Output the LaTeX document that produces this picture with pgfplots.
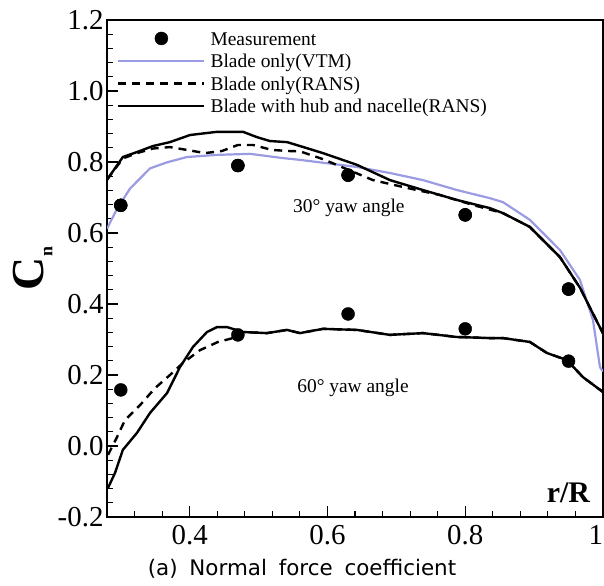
\documentclass[border=0pt]{standalone}
\usepackage{fontspec}
\setmainfont{Liberation Serif}
\newfontfamily\capfont{DejaVu Sans}
\usepackage{pgfplots}
\pgfplotsset{compat=1.18}
\usepackage{pgfplotstable}
\definecolor{vtm}{RGB}{155,155,228}

\pgfplotstableread{
x y
0.2800 0.612
0.2945 0.668
0.3134 0.725
0.3424 0.782
0.3671 0.799
0.3961 0.814
0.4397 0.820
0.4876 0.823
0.5354 0.811
0.5601 0.806
0.6428 0.786
0.6907 0.769
0.7386 0.749
0.7880 0.721
0.8359 0.698
0.8547 0.687
0.8939 0.637
0.9375 0.552
0.9665 0.468
0.9854 0.355
0.9956 0.222
1.0000 0.210
}\vtmthirty

\pgfplotstableread{
x y
0.2800 0.750
0.3030 0.810
0.3235 0.825
0.3468 0.838
0.3714 0.842
0.3961 0.834
0.4222 0.825
0.4469 0.831
0.4701 0.848
0.4919 0.848
0.5195 0.834
0.5427 0.831
0.5601 0.830
0.5935 0.808
0.6660 0.749
0.7154 0.727
0.7633 0.707
0.8112 0.679
0.8547 0.656
0.8939 0.617
0.9375 0.532
0.9665 0.446
0.9854 0.373
1.0000 0.317
}\ransthirty

\pgfplotstableread{
x y
0.2800 0.750
0.3030 0.814
0.3235 0.828
0.3468 0.845
0.3714 0.856
0.4005 0.876
0.4397 0.885
0.4774 0.885
0.4977 0.870
0.5166 0.859
0.5413 0.856
0.5601 0.845
0.5935 0.825
0.6428 0.792
0.6907 0.749
0.7386 0.721
0.7880 0.693
0.8359 0.670
0.8547 0.656
0.8939 0.617
0.9375 0.532
0.9665 0.446
0.9854 0.373
1.0000 0.317
}\hubthirty

\pgfplotstableread{
x y
0.2815 -0.025
0.2945 0.025
0.3061 0.073
0.3279 0.115
0.3497 0.163
0.3714 0.200
0.3903 0.234
0.4150 0.270
0.4411 0.293
0.4629 0.304
0.4774 0.321
0.5122 0.318
0.5413 0.327
0.5601 0.318
0.5935 0.330
0.6428 0.327
0.6907 0.313
0.7386 0.318
0.7880 0.307
0.8359 0.304
0.8547 0.304
0.8939 0.293
0.9186 0.262
0.9476 0.242
0.9709 0.194
1.0000 0.152
}\ranssixty

\pgfplotstableread{
x y
0.2815 -0.118
0.2916 -0.076
0.3030 -0.011
0.3235 0.037
0.3424 0.093
0.3671 0.149
0.3860 0.2225
0.4048 0.279
0.4251 0.321
0.4397 0.335
0.4542 0.335
0.4774 0.321
0.5122 0.318
0.5413 0.327
0.5601 0.318
0.5935 0.330
0.6428 0.327
0.6907 0.313
0.7386 0.318
0.7880 0.307
0.8359 0.304
0.8547 0.304
0.8939 0.293
0.9186 0.262
0.9476 0.242
0.9709 0.194
1.0000 0.152
}\hubsixty

\pgfplotstableread{
x y
0.30 0.678
0.47 0.790
0.63 0.763
0.80 0.651
0.95 0.442
}\measthirty

\pgfplotstableread{
x y
0.30 0.158
0.47 0.313
0.63 0.372
0.80 0.330
0.95 0.239
}\meassixty

\begin{document}
\begin{tikzpicture}
\begin{axis}[
  at={(107bp,69bp)}, anchor=south west,
  scale only axis, width=496bp, height=497bp,
  xmin=0.28, xmax=1, ymin=-0.2, ymax=1.2,
  xtick={0.4,0.6,0.8,1}, xticklabels={0.4,0.6,0.8,\llap{1}},
  ytick={-0.2,0,0.2,0.4,0.6,0.8,1,1.2},
  yticklabels={-0.2,0.0,0.2,0.4,0.6,0.8,1.0,1.2},
  minor xtick={0.32,0.36,...,0.97},
  minor ytick={-0.16,-0.12,...,1.17},
  tick pos=left, tick align=inside,
  major tick length=11bp, minor tick length=6bp,
  every tick/.style={black, line width=1.2bp},
  axis line style={line width=1.6bp},
  ticklabel style={font=\fontsize{29}{29}\selectfont},
  xticklabel style={yshift=-5bp},
  ylabel={\bfseries\fontsize{46}{46}\selectfont C\kern1bp\raisebox{-9bp}{\bfseries\fontsize{18}{18}\selectfont n}},
  ylabel style={at={(axis description cs:-0.150,0.5)}, anchor=center, inner sep=0pt},
  legend style={at={(axis description cs:0,1)}, anchor=north west, xshift=10bp, yshift=-10bp,
    draw=none, fill=none, inner sep=0pt, font=\fontsize{19.5}{19.5}\selectfont, row sep=0pt,
    nodes={inner sep=0pt, text height=15bp, text depth=7.5bp},
    /tikz/every odd column/.append style={column sep=5bp}},
  legend cell align=left,
  legend image code/.code={\draw[mark repeat=2,mark phase=2,#1] plot coordinates {(0bp,3bp) (43bp,3bp) (86bp,3bp)};},
]
\addplot[only marks, mark=*, mark size=6.5bp, black] table {\measthirty};
\addlegendentry{Measurement}
\addplot[vtm, line width=2.2bp] table {\vtmthirty};
\addlegendentry{Blade only(VTM)}
\addplot[black, line width=2.4bp, dash pattern=on 8bp off 6bp] table {\ransthirty};
\addlegendentry{Blade only(RANS)}
\addplot[black, line width=2.4bp] table {\hubthirty};
\addlegendentry{Blade with hub and nacelle(RANS)}
\addplot[black, line width=2.4bp, dash pattern=on 8bp off 6bp, forget plot] table {\ranssixty};
\addplot[black, line width=2.4bp, forget plot] table {\hubsixty};
\addplot[only marks, mark=*, mark size=6.5bp, black, forget plot] table {\meassixty};
\addplot[only marks, mark=*, mark size=6.5bp, black, forget plot] table {\measthirty};
\node[anchor=west, inner sep=0pt, font=\fontsize{19.5}{19.5}\selectfont] at (axis cs:0.55,0.67) {30° yaw angle};
\node[anchor=west, inner sep=0pt, font=\fontsize{19.5}{19.5}\selectfont] at (axis cs:0.556,0.163) {60° yaw angle};
\node[anchor=base east, inner sep=0pt, font=\bfseries\fontsize{30}{30}\selectfont] at (axis description cs:0.974,0.030) {r/R};
\end{axis}
\node[anchor=center, inner sep=0pt, font=\capfont\fontsize{21.5}{21.5}\selectfont] at (302bp,17bp) {(a)\hspace{5bp} Normal\hspace{5bp} force\hspace{5bp} coefficient};
\pgfresetboundingbox
\path (0,0) rectangle (604bp,586bp);
\end{tikzpicture}
\end{document}
